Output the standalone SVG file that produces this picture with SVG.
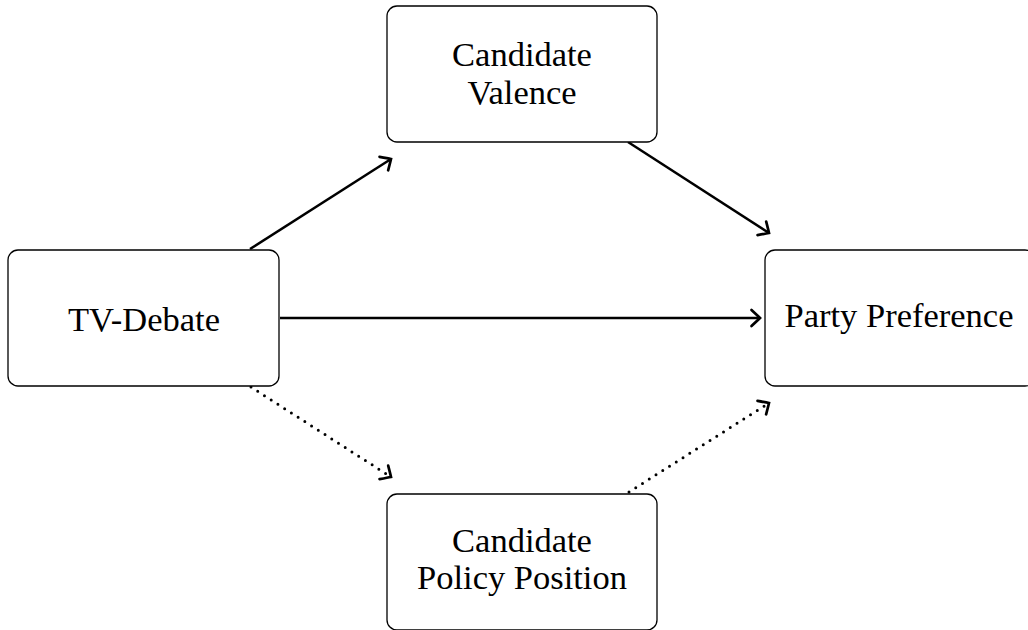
<svg xmlns="http://www.w3.org/2000/svg" width="1028" height="630" viewBox="0 0 1028 630">
<style>
.box{fill:#fff;stroke:#000;stroke-width:1.3}
.lbl{font-family:"Liberation Serif","DejaVu Serif",serif;font-size:34.5px;fill:#000;text-anchor:middle}
.edge{fill:none;stroke:#000;stroke-width:2.5;marker-end:url(#to)}
.dot{stroke-dasharray:0 8;stroke-linecap:round;stroke-width:3}
</style>
<defs>
<marker id="to" markerUnits="userSpaceOnUse" markerWidth="24" markerHeight="24" refX="0" refY="0" viewBox="-14 -12 16 24" orient="auto" overflow="visible">
<path d="M-8.5,-8 Q-2,-2 0,0 Q-2,2 -8.5,8" fill="none" stroke="#000" stroke-width="2.7" stroke-linecap="round"/>
</marker>
</defs>
<g id="connectors">
<line class="edge" x1="250" y1="249" x2="391" y2="159"/>
<line class="edge" x1="628" y1="142" x2="769" y2="233"/>
<line class="edge" x1="280" y1="318" x2="760" y2="318"/>
<line class="edge dot" x1="251" y1="387" x2="391" y2="477"/>
<line class="edge dot" x1="629" y1="492" x2="769" y2="403"/>
</g>
<g id="tv">
<rect class="box" x="8" y="250" width="271" height="136" rx="10"/>
<text class="lbl" x="144" y="331">TV-Debate</text>
</g>
<g id="valence">
<rect class="box" x="387" y="6" width="270" height="136" rx="10"/>
<text class="lbl" x="522" y="66">Candidate</text>
<text class="lbl" x="522" y="104">Valence</text>
</g>
<g id="party">
<rect class="box" x="765" y="250" width="270" height="136" rx="10"/>
<text class="lbl" x="899" y="327">Party Preference</text>
</g>
<g id="policy">
<rect class="box" x="387" y="494" width="270" height="136" rx="10"/>
<text class="lbl" x="522" y="552">Candidate</text>
<text class="lbl" x="522" y="589">Policy Position</text>
</g>
</svg>
